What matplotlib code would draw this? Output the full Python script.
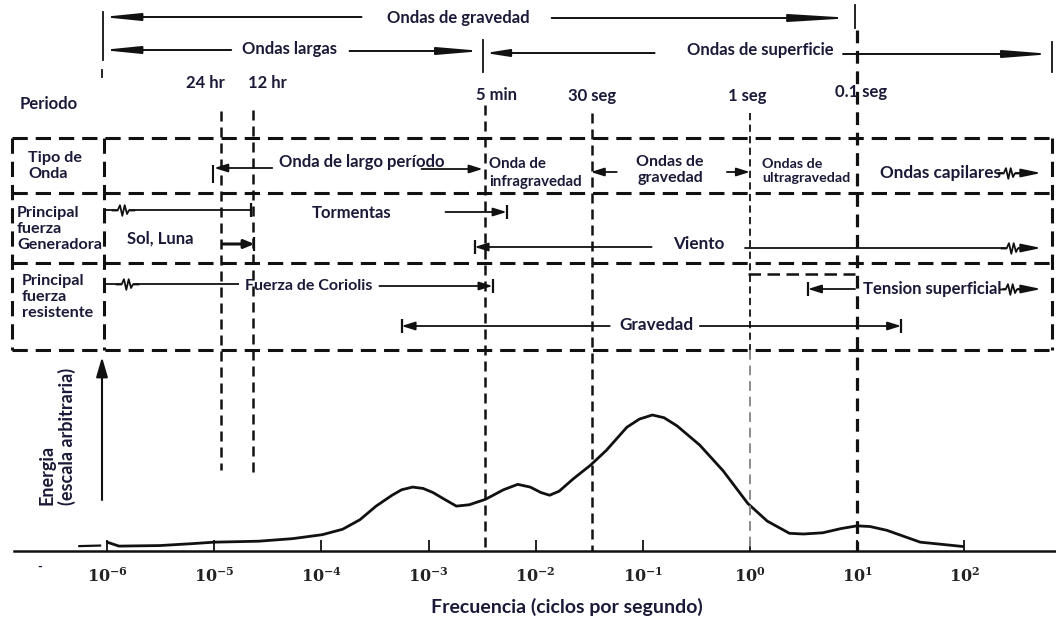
import matplotlib
matplotlib.use("Agg")
import matplotlib.pyplot as plt
from matplotlib.path import Path
from matplotlib.ticker import NullLocator
from matplotlib.transforms import blended_transform_factory

INK = "#111111"
TXT = "#1a1a38"
plt.rcParams["font.family"] = ["Lato", "DejaVu Sans"]
plt.rcParams["font.weight"] = "bold"
plt.rcParams["mathtext.fontset"] = "dejavuserif"

# ---------------------------------------------------------------- data
period_labels = ["24 hr", "12 hr", "5 min", "30 seg", "1 seg", "0.1 seg"]
period_seconds = [86400, 43200, 300, 30, 1, 0.1]

decade_ticks = [1e-6, 1e-5, 1e-4, 1e-3, 1e-2, 1e-1, 1e0, 1e1, 1e2]
decade_labels = ["$10^{-6}$", "$10^{-5}$", "$10^{-4}$", "$10^{-3}$", "$10^{-2}$",
                 "$10^{-1}$", "$10^{0}$", "$10^{1}$", "$10^{2}$"]

# energy spectrum (arbitrary units, main peak = 1)
spec_freq = [1.0e-6, 1.29e-6, 3.1e-6, 6.2e-6, 1.0e-5, 2.6e-5, 5.4e-5, 1.02e-4,
             1.58e-4, 2.29e-4, 3.24e-4, 4.57e-4, 5.6e-4, 7.1e-4, 8.9e-4, 1.1e-3,
             1.41e-3, 1.82e-3, 2.4e-3, 3.4e-3, 5.0e-3, 6.8e-3, 8.9e-3, 1.12e-2,
             1.35e-2, 1.66e-2, 2.24e-2, 3.24e-2, 4.57e-2, 7.1e-2, 9.3e-2, 0.123,
             0.158, 0.209, 0.339, 0.562, 0.955, 1.45, 2.34, 3.16, 4.79, 7.1,
             10.0, 13.2, 19.0, 38.9, 97.7]
spec_energy = [0.065, 0.036, 0.040, 0.054, 0.065, 0.072, 0.091, 0.12,
               0.16, 0.23, 0.33, 0.41, 0.45, 0.47, 0.46, 0.43,
               0.38, 0.33, 0.34, 0.38, 0.45, 0.49, 0.47, 0.43,
               0.41, 0.44, 0.53, 0.63, 0.74, 0.91, 0.97, 1.00,
               0.98, 0.92, 0.78, 0.59, 0.35, 0.22, 0.13, 0.125, 0.134, 0.165,
               0.185, 0.18, 0.152, 0.065, 0.033]
lead_freq = [5.5e-7, 8.6e-7]
lead_energy = [0.036, 0.040]

# ---------------------------------------------------------------- layout
W, H = 1056, 621
F_MIN, F_MAX = 1.0e-7, 7.2e2
BASE_Y = 551
FS = 12

fig = plt.figure(figsize=(W / 100, H / 100), dpi=100)
fig.patch.set_facecolor("white")

# spectrum panel
ax_s = fig.add_axes([0, (H - BASE_Y) / H, 1, 150 / H])
ax_s.set_xscale("log")
ax_s.set_xlim(F_MIN, F_MAX)
ax_s.set_ylim(0, 150 / 136)
ax_s.patch.set_alpha(0)
for sp in ax_s.spines.values():
    sp.set_visible(False)
ax_s.plot(spec_freq, spec_energy, color=INK, lw=2.0, solid_joinstyle="round",
          solid_capstyle="round")
ax_s.plot(lead_freq, lead_energy, color=INK, lw=1.6)
tb = blended_transform_factory(ax_s.transAxes, ax_s.transData)
ax_s.plot([14 / W, 1.0], [0, 0], color=INK, lw=1.8, transform=tb, clip_on=False)
ax_s.set_xticks(decade_ticks)
ax_s.set_xticklabels(decade_labels)
ax_s.xaxis.set_minor_locator(NullLocator())
ax_s.set_yticks([])
ax_s.tick_params(axis="x", direction="in", length=8, width=1.4, pad=11,
                 labelsize=11.5, colors="#222222")

# diagram panel (y in pixel rows from the top)
ax = fig.add_axes([0, 0, 1, 1])
ax.set_xscale("log")
ax.set_xlim(F_MIN, F_MAX)
ax.set_ylim(H, 0)
ax.axis("off")
ax.patch.set_alpha(0)
tp = blended_transform_factory(ax.transAxes, ax.transData)


def P(px):
    return px / W


def txt(px, y, s, fs=FS, ha="center", **kw):
    ax.text(P(px), y, s, transform=tp, fontsize=fs, ha=ha, va="center",
            color=TXT, fontweight="bold", **kw)


def arrow(f0, f1, y, style="-|>", hl=0.8, hw=0.25, lw=1.3):
    ax.annotate("", xy=(f1, y), xytext=(f0, y),
                arrowprops=dict(arrowstyle=f"{style},head_length={hl},head_width={hw}",
                                color=INK, lw=lw, shrinkA=0, shrinkB=0,
                                mutation_scale=10),
                annotation_clip=False)


def line(f0, f1, y, lw=1.3):
    ax.plot([f0, f1], [y, y], color=INK, lw=lw, solid_capstyle="butt")


def bar(f, y, size=10, mew=1.6):
    ax.plot([f], [y], marker="|", ms=size, mew=mew, color=INK)


ZIG = Path([(-1, 0), (-0.5, 0), (-0.3, 0.45), (-0.1, -0.45), (0.1, 0.45),
            (0.3, -0.3), (0.45, 0), (1, 0)])


def squiggle(f, y, size=17):
    ax.plot([f], [y], marker="_", ms=size * 0.55, mew=4, color="white", zorder=4)
    ax.plot([f], [y], marker=ZIG, ms=size, mew=1.3, mfc="none", color=INK, zorder=5)


def vline_px(px, y0, y1, lw=1.3, **kw):
    ax.plot([P(px), P(px)], [y0, y1], transform=tp, color=kw.pop("color", INK),
            lw=lw, **kw)


def hdash_px(px0, px1, y, lw=2.2):
    ax.plot([P(px0), P(px1)], [y, y], transform=tp, color=INK, lw=lw,
            ls=(0, (5, 2.6)), dash_capstyle="butt")


# ---- top brackets: gravity waves, long waves, surface waves
arrow(2.37e-4, 8.98e-7, 17, hl=2.2, hw=0.22, lw=1.4)
arrow(1.41e-2, 9.18, 18, hl=3.6, hw=0.22, lw=1.4)
txt(458, 18, "Ondas de gravedad")
arrow(1.44e-5, 8.98e-7, 50, hl=2.2, hw=0.22, lw=1.4)
arrow(1.83e-4, 3.2e-3, 51, hl=2.6, hw=0.22, lw=1.4)
txt(290, 49, "Ondas largas")
arrow(0.129, 3.4e-3, 53, hl=1.4, hw=0.22, lw=1.4)
arrow(7.4, 664, 54, hl=2.8, hw=0.22, lw=1.4)
txt(760, 50, "Ondas de superficie")
vline_px(103, 12, 60)
vline_px(102, 70, 77)
vline_px(483, 40, 72)
vline_px(855, 5, 28)
vline_px(1052, 42, 72)

# ---- periods and their frequency markers
period_dx = [-16, 14, 12, 0, -3, 4]
period_y = [83, 83, 95, 96, 96, 92]
line_top = [111, 110, 105, 113, 113, 30]
line_bot = [470, 476, BASE_Y, BASE_Y, 350, BASE_Y]
line_w = [1.8, 1.8, 1.8, 1.8, 1.3, 2.3]
for lab, sec, dx, y, y0, y1, lw in zip(period_labels, period_seconds, period_dx,
                                        period_y, line_top, line_bot, line_w):
    f = 1.0 / sec
    ax.annotate(lab, xy=(f, y), xytext=(dx * 0.72, 0), textcoords="offset points",
                ha="center", va="center", fontsize=FS, color=TXT, fontweight="bold")
    ax.plot([f, f], [y0, y1], color=INK, lw=lw, ls=(0, (4, 2.4)), dash_capstyle="butt")
# the 1 s marker continues in grey across the spectrum
ax.plot([1.0, 1.0], [350, BASE_Y], color="#8c8c8c", lw=1.4, ls=(0, (5, 3)))

txt(20, 104, "Periodo", ha="left")

# ---- table frame
for y in (138, 193, 263, 350):
    hdash_px(12, 1052, y)
for px in (12, 104, 1052):
    ax.plot([P(px), P(px)], [138, 350], transform=tp, color=INK, lw=2.2,
            ls=(0, (5, 2.6)), dash_capstyle="butt")
hdash_px(748, 855, 274, lw=1.8)

# row headers
txt(28, 166, "Tipo de\nOnda", fs=11.6, ha="left", linespacing=1.2)
txt(17, 229, "Principal\nfuerza\nGeneradora", fs=11.6, ha="left", linespacing=1.2)
txt(22, 297, "Principal\nfuerza\nresistente", fs=11.6, ha="left", linespacing=1.2)

# row 1: wave types
txt(362, 162, "Onda de largo período")
arrow(3.48e-5, 1.0e-5, 168)
arrow(8.6e-4, 3.2e-3, 169)
vline_px(213, 166, 182, lw=1.5)
txt(489, 173, "Onda de\ninfragravedad", fs=10.8, ha="left", linespacing=1.3)
txt(670, 170, "Ondas de\ngravedad", fs=11.5, linespacing=1.25)
arrow(5.72e-2, 3.27e-2, 172)
arrow(0.61, 1.0, 172)
txt(762, 171, "Ondas de\nultragravedad", fs=10.3, ha="left", linespacing=1.3)
txt(940, 173, "Ondas capilares", fs=12.3)
arrow(208, 525, 173, hl=1.2, hw=0.25)
squiggle(262, 173)

# row 2: generating forces
line(9.8e-7, 2.22e-5, 210)
squiggle(1.4e-6, 210)
bar(2.22e-5, 210)
txt(352, 213, "Tormentas")
arrow(1.44e-3, 5.36e-3, 212)
bar(5.36e-3, 212)
txt(160, 239, "Sol, Luna")
arrow(1.19e-5, 2.37e-5, 244, lw=2.2, hl=0.6)
bar(2.37e-5, 244)
arrow(0.121, 2.69e-3, 247)
bar(2.69e-3, 247)
txt(699, 244, "Viento", fs=12.3)
arrow(0.9, 525, 248, hl=1.2, hw=0.25)
squiggle(281, 248)

# row 3: restoring forces
line(9.8e-7, 1.71e-5, 284)
squiggle(1.54e-6, 284)
txt(309, 286, "Fuerza de Coriolis", fs=11.5)
arrow(3.48e-4, 3.96e-3, 286)
bar(3.96e-3, 286)
arrow(9.58, 3.48, 289)
bar(3.48, 289)
txt(932, 289, "Tension superficial")
arrow(231, 525, 289, hl=1.2, hw=0.25)
squiggle(275, 289)
arrow(4.92e-2, 5.6e-4, 326)
bar(5.6e-4, 326)
txt(656, 325, "Gravedad", fs=12.3)
arrow(0.341, 25.8, 326)
bar(25.8, 326)

# ---- energy axis arrow and labels
ax.annotate("", xy=(P(102), 357), xytext=(P(102), 500), xycoords=tp, textcoords=tp,
            arrowprops=dict(arrowstyle="-|>,head_length=1.2,head_width=0.35",
                            color=INK, lw=1.5, shrinkA=0, shrinkB=0, mutation_scale=10))
ax.text(P(57), 505, "Energia\n(escala arbitraria)", transform=tp, rotation=90,
        ha="center", va="bottom", multialignment="left", fontsize=13,
        color=TXT, fontweight="bold", linespacing=1.15)
txt(40, 567, "-", fs=9)
txt(567, 607, "Frecuencia (ciclos por segundo)", fs=14)

fig.savefig("out.png", dpi=100, facecolor="white")
